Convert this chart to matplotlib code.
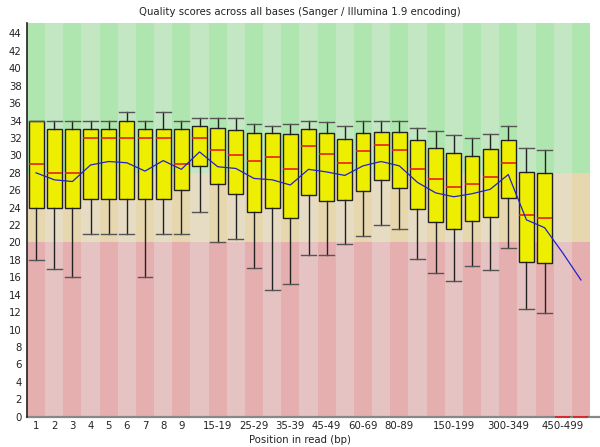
import matplotlib
matplotlib.use("Agg")
import matplotlib.pyplot as plt
from matplotlib.patches import Rectangle

categories = ["1", "2", "3", "4", "5", "6", "7", "8", "9", "10-14", "15-19", "20-24",
              "25-29", "30-34", "35-39", "40-44", "45-49", "50-59", "60-69", "70-79",
              "80-89", "90-99", "100-149", "150-199", "200-249", "250-299", "300-349",
              "350-399", "400-449", "450-499", "500-549"]
shown_labels = {"1", "2", "3", "4", "5", "6", "7", "8", "9", "15-19", "25-29", "35-39",
                "45-49", "60-69", "80-89", "150-199", "300-349", "450-499"}

whisker_high = [34, 34, 34, 34, 34, 35, 34, 35, 34, 34.3, 34.3, 34.3, 33.6, 33.4, 33.6, 34.0,
                33.8, 33.4, 33.9, 33.9, 33.9, 33.2, 32.8, 32.3, 32.0, 32.4, 33.4, 30.9, 30.6, 0, 0]
upper_q = [34, 33, 33, 33, 33, 34, 33, 33, 33, 33.4, 33.2, 32.9, 32.6, 32.6, 32.4, 33.05,
           32.6, 31.9, 32.6, 32.7, 32.7, 31.8, 30.9, 30.3, 29.9, 30.7, 31.8, 28.1, 28.0, 0, 0]
median = [29, 28, 28, 32, 32, 32, 32, 32, 29, 32, 30.6, 30.0, 29.4, 29.8, 28.4, 31.05,
          30.2, 29.15, 30.5, 31.25, 30.6, 28.4, 27.3, 26.4, 26.7, 27.5, 29.15, 23.2, 22.8, 0, 0]
lower_q = [24, 24, 24, 25, 25, 25, 25, 25, 26, 28.8, 26.7, 25.6, 23.45, 24.0, 22.8, 25.4,
           24.8, 24.9, 25.9, 27.2, 26.3, 23.8, 22.3, 21.6, 22.5, 22.9, 25.1, 17.8, 17.7, 0, 0]
whisker_low = [18, 17, 16, 21, 21, 21, 16, 21, 21, 23.45, 20.0, 20.35, 17.1, 14.5, 15.2, 18.55,
               18.55, 19.8, 20.7, 22.0, 21.6, 18.1, 16.45, 15.6, 17.25, 16.8, 19.4, 12.35, 11.9, 0, 0]
mean = [28.0, 27.2, 27.0, 28.9, 29.3, 29.15, 28.2, 29.4, 28.4, 30.4, 28.7, 28.5, 27.35, 27.2,
        26.6, 28.4, 28.1, 27.7, 28.8, 29.3, 28.8, 26.9, 25.7, 25.25, 25.6, 26.1, 27.8, 22.6,
        21.7, 18.8, 15.7]

ymax = 45.2
good_dark, good_light = "#afe6af", "#c3e6c3"
bad_dark, bad_light = "#e6d7af", "#e6dcc3"
ugly_dark, ugly_light = "#e6afaf", "#e6c3c3"

fig = plt.figure(figsize=(6.0, 4.47), dpi=100)
ax = fig.add_axes([27 / 600, (447 - 416.7) / 447, (590 - 27) / 600, (416.7 - 23) / 447])

n = len(categories)
positions = list(range(1, n + 1))
for i, p in enumerate(positions):
    dark = (i % 2 == 0)
    for lo, hi, cd, cl in [(0, 20, ugly_dark, ugly_light), (20, 28, bad_dark, bad_light),
                           (28, ymax, good_dark, good_light)]:
        ax.add_patch(Rectangle((p - 0.5, lo), 1, hi - lo, facecolor=cd if dark else cl,
                               edgecolor="none", zorder=0))

stats = []
for i in range(n):
    stats.append(dict(whislo=whisker_low[i], q1=lower_q[i], med=median[i], q3=upper_q[i],
                      whishi=whisker_high[i], fliers=[]))
ax.plot([0, (600 - 27) / (590 - 27)], [0, 0], transform=ax.transAxes, color="#888888",
        linewidth=1.6, clip_on=False, zorder=1.5)
ax.bxp(stats, positions=positions, widths=0.82, capwidths=0.82, patch_artist=True,
       showfliers=False, manage_ticks=False,
       boxprops=dict(facecolor="#eeee00", edgecolor="#222222", linewidth=1.0),
       whiskerprops=dict(color="#222222", linewidth=1.0),
       capprops=dict(color="#555555", linewidth=1.0),
       medianprops=dict(color="#e8201c", linewidth=1.2, zorder=4, clip_on=False))

ax.plot(positions, mean, color="#2222cc", linewidth=0.9, zorder=5)

ax.set_xlim(0.5, n + 0.5)
ax.set_ylim(0, ymax)
ax.set_yticks(range(0, 45, 2))
ax.set_xticks(positions)
ax.set_xticklabels([c if c in shown_labels else "" for c in categories])
ax.tick_params(axis="both", length=0, labelsize=7.3, colors="#222222")
ax.tick_params(axis="x", pad=3)
ax.tick_params(axis="y", pad=4)

for s in ["top", "right"]:
    ax.spines[s].set_visible(False)
ax.spines["left"].set_color("#222222")
ax.spines["left"].set_linewidth(1.2)
ax.spines["bottom"].set_visible(False)

fig.text(0.5, 1 - 12 / 447, "Quality scores across all bases (Sanger / Illumina 1.9 encoding)",
         ha="center", va="center", fontsize=7.3, color="#222222")
fig.text(0.5, 1 - 440 / 447, "Position in read (bp)", ha="center", va="center",
         fontsize=7.3, color="#222222")

fig.savefig("out.png", dpi=100)
